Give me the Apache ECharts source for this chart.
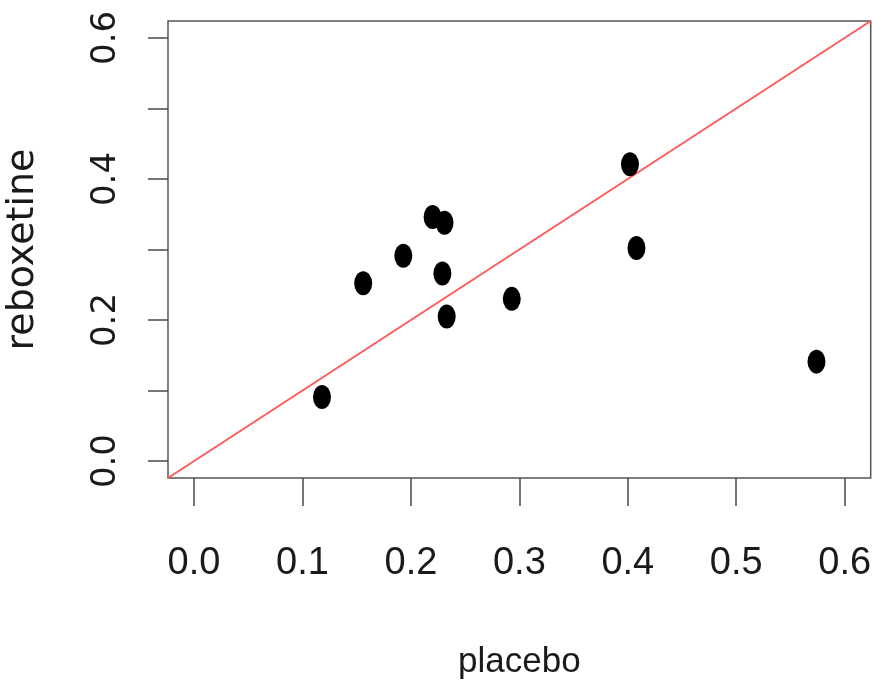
<!DOCTYPE html>
<html>
<head>
<meta charset="utf-8">
<script src="https://cdn.jsdelivr.net/npm/echarts@6/dist/echarts.min.js"></script>
<style>
  html, body { margin: 0; padding: 0; background: #fff; }
  #chart { width: 872px; height: 693px; }
</style>
</head>
<body>
<div id="chart"></div>
<script>
// data
const placebo = [0.118, 0.156, 0.193, 0.220, 0.231, 0.229, 0.233, 0.293, 0.402, 0.408, 0.574];
const reboxetine = [0.091, 0.252, 0.291, 0.346, 0.338, 0.266, 0.205, 0.230, 0.421, 0.302, 0.141];
const xTicks = [0, 0.1, 0.2, 0.3, 0.4, 0.5, 0.6];
const yTicks = [0, 0.1, 0.2, 0.3, 0.4, 0.5, 0.6];
const yLabels = [0, 0.2, 0.4, 0.6];
// axis limits (R pads 0..0.6 by 4%)
const axisMin = -0.024;
const axisMax = 0.624;
// reference line y = a + b*x
const abline = { a: 0, b: 1 };

const chart = echarts.init(document.getElementById("chart"));

const points = placebo.map((x, i) => [x, reboxetine[i]]);
const lineData = [axisMin, axisMax].map((x) => [x, abline.a + abline.b * x]);

const axisColor = "#4a4a4a";

chart.setOption({
  animation: false,
  grid: {
    left: 168,
    top: 21,
    right: 1.3,
    bottom: 215,
    outerBoundsMode: "none",
    containLabel: false,
    show: true,
    borderColor: "#555",
    borderWidth: 1.5,
  },
  xAxis: {
    type: "value",
    min: axisMin,
    max: axisMax,
    splitLine: { show: false },
    axisLine: { show: false, onZero: false },
    axisTick: {
      show: true,
      inside: false,
      length: 28,
      customValues: xTicks,
      lineStyle: { color: axisColor, width: 1.5 },
    },
    axisLabel: {
      customValues: xTicks,
      margin: 67,
      fontSize: 38,
      color: "#1a1a1a",
      fontFamily: "Liberation Sans, sans-serif",
      formatter: (v) => v.toFixed(1),
    },
    name: "placebo",
    nameLocation: "middle",
    nameGap: 167,
    nameTextStyle: {
      fontSize: 35,
      color: "#1a1a1a",
      fontFamily: "Liberation Sans, sans-serif",
    },
  },
  yAxis: {
    type: "value",
    min: axisMin,
    max: axisMax,
    splitLine: { show: false },
    axisLine: { show: false, onZero: false },
    axisTick: {
      show: true,
      inside: false,
      length: 20,
      customValues: yTicks,
      lineStyle: { color: axisColor, width: 1.5 },
    },
    axisLabel: {
      customValues: yLabels,
      rotate: 90,
      margin: 45,
      fontSize: 34,
      color: "#1a1a1a",
      fontFamily: "DejaVu Sans, sans-serif",
      formatter: (v) => v.toFixed(1),
    },
    name: "reboxetine",
    nameLocation: "middle",
    nameRotate: 90,
    nameGap: 126,
    nameTextStyle: {
      fontSize: 38,
      color: "#1a1a1a",
      fontFamily: "DejaVu Sans, sans-serif",
    },
  },
  series: [
    {
      type: "line",
      data: lineData,
      showSymbol: false,
      silent: true,
      lineStyle: { color: "#ff5a5a", width: 2 },
      z: 1,
    },
    {
      type: "scatter",
      data: points,
      symbol: "circle",
      symbolSize: [18, 24],
      itemStyle: { color: "#000", opacity: 1 },
      z: 2,
    },
  ],
});
</script>
</body>
</html>
